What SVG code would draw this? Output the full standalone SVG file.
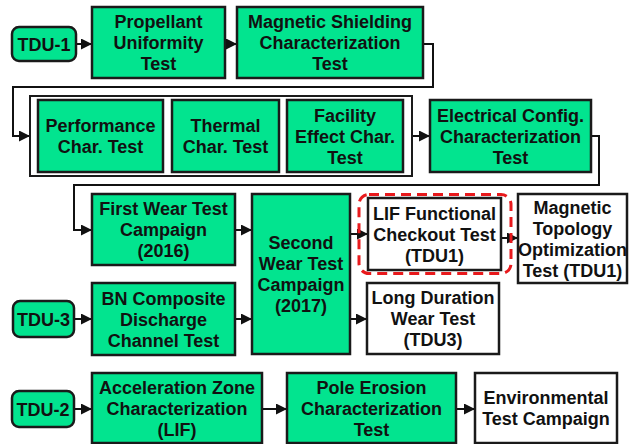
<svg xmlns="http://www.w3.org/2000/svg" width="629" height="444" viewBox="0 0 629 444">
<style>
.g{fill:#02E48F;stroke:#1a1a1a;stroke-width:2.5}
.w{fill:#ffffff;stroke:#1a1a1a;stroke-width:2.5}
.o{fill:#ffffff;stroke:#1a1a1a;stroke-width:2}
.t{font-family:"Liberation Sans",Arial,sans-serif;font-weight:bold;font-size:18px;fill:#111;text-anchor:middle}
.c{fill:none;stroke:#111;stroke-width:2}
.a{marker-end:url(#ah)}
.red{fill:none;stroke:#e8191c;stroke-width:3;stroke-dasharray:10 6}
</style>
<defs>
<marker id="ah" markerUnits="userSpaceOnUse" markerWidth="11" markerHeight="11" refX="11" refY="5.5" orient="auto">
<path d="M0,0 L11,5.5 L0,11 z" fill="#111"/>
</marker>
</defs>
<rect x="0" y="0" width="629" height="444" fill="#ffffff"/>

<g id="connectors">
<path class="c a" d="M76,44 L92,44"/>
<path class="c a" d="M225,44 L237,44"/>
<path class="c a" d="M423,44 L433,44 L433,87 L13,87 L13,136 L30,136"/>
<path class="c a" d="M412,136 L430,136"/>
<path class="c a" d="M591,136 L599,136 L599,185 L74,185 L74,230 L92,230"/>
<path class="c a" d="M235,230 L252,230"/>
<path class="c a" d="M350,234 L368,234"/>
<path class="c a" d="M501,238 L518,238"/>
<path class="c a" d="M74,319 L92,319"/>
<path class="c a" d="M235,319 L252,319"/>
<path class="c a" d="M350,319 L367,319"/>
<path class="c a" d="M74,409 L92,409"/>
<path class="c a" d="M262,409 L287,409"/>
<path class="c a" d="M456,409 L475,409"/>
</g>

<g id="tdu1">
<rect class="g" x="12" y="27" width="64" height="34" rx="7"/>
<text class="t" x="44" y="50.5">TDU-1</text>
</g>
<g id="propellant">
<rect class="g" x="92" y="7" width="133" height="71"/>
<text class="t" x="158.5" y="28">Propellant</text>
<text class="t" x="158.5" y="49">Uniformity</text>
<text class="t" x="158.5" y="70">Test</text>
</g>
<g id="magshield">
<rect class="g" x="237" y="7" width="186" height="71"/>
<text class="t" x="330" y="28">Magnetic Shielding</text>
<text class="t" x="330" y="49">Characterization</text>
<text class="t" x="330" y="70">Test</text>
</g>

<g id="group-row2">
<rect class="o" x="30" y="96" width="382" height="80"/>
</g>
<g id="performance">
<rect class="g" x="38" y="100" width="125" height="72"/>
<text class="t" x="100.5" y="132">Performance</text>
<text class="t" x="100.5" y="153">Char. Test</text>
</g>
<g id="thermal">
<rect class="g" x="172" y="100" width="107" height="72"/>
<text class="t" x="225.5" y="132">Thermal</text>
<text class="t" x="225.5" y="153">Char. Test</text>
</g>
<g id="facility">
<rect class="g" x="287" y="100" width="116" height="72"/>
<text class="t" x="345" y="121.5">Facility</text>
<text class="t" x="345" y="142.5">Effect Char.</text>
<text class="t" x="345" y="163.5">Test</text>
</g>
<g id="electrical">
<rect class="g" x="430" y="100" width="161" height="72"/>
<text class="t" x="510.5" y="121.5">Electrical Config.</text>
<text class="t" x="510.5" y="142.5">Characterization</text>
<text class="t" x="510.5" y="163.5">Test</text>
</g>

<g id="firstwear">
<rect class="g" x="92" y="194" width="143" height="71"/>
<text class="t" x="163.5" y="215">First Wear Test</text>
<text class="t" x="163.5" y="236">Campaign</text>
<text class="t" x="163.5" y="257">(2016)</text>
</g>
<g id="secondwear">
<rect class="g" x="252" y="194" width="98" height="160"/>
<text class="t" x="301" y="248.5">Second</text>
<text class="t" x="301" y="269.5">Wear Test</text>
<text class="t" x="301" y="290.5">Campaign</text>
<text class="t" x="301" y="311.5">(2017)</text>
</g>
<g id="lif">
<rect class="w" x="368" y="198" width="133" height="72"/>
<text class="t" x="434.5" y="219.5">LIF Functional</text>
<text class="t" x="434.5" y="240.5">Checkout Test</text>
<text class="t" x="434.5" y="261.5">(TDU1)</text>
</g>
<g id="highlight">
<rect class="red" x="359" y="194.5" width="152" height="79" rx="10"/>
</g>
<g id="magtopo">
<rect class="w" x="518" y="194" width="109" height="89"/>
<text class="t" x="572.5" y="213.5">Magnetic</text>
<text class="t" x="572.5" y="234.5">Topology</text>
<text class="t" x="572.5" y="255.5">Optimization</text>
<text class="t" x="572.5" y="276.5">Test (TDU1)</text>
</g>

<g id="tdu3">
<rect class="g" x="13" y="301" width="61" height="36" rx="7"/>
<text class="t" x="43.5" y="325.5">TDU-3</text>
</g>
<g id="bn">
<rect class="g" x="92" y="283" width="143" height="72"/>
<text class="t" x="163.5" y="304.5">BN Composite</text>
<text class="t" x="163.5" y="325.5">Discharge</text>
<text class="t" x="163.5" y="346.5">Channel Test</text>
</g>
<g id="longduration">
<rect class="w" x="367" y="283" width="132" height="71"/>
<text class="t" x="433" y="304">Long Duration</text>
<text class="t" x="433" y="325">Wear Test</text>
<text class="t" x="433" y="346">(TDU3)</text>
</g>

<g id="tdu2">
<rect class="g" x="12" y="391" width="62" height="36" rx="7"/>
<text class="t" x="43" y="415.5">TDU-2</text>
</g>
<g id="acceleration">
<rect class="g" x="92" y="373" width="170" height="70"/>
<text class="t" x="177" y="393.5">Acceleration Zone</text>
<text class="t" x="177" y="414.5">Characterization</text>
<text class="t" x="177" y="435.5">(LIF)</text>
</g>
<g id="pole">
<rect class="g" x="287" y="373" width="169" height="70"/>
<text class="t" x="371.5" y="393.5">Pole Erosion</text>
<text class="t" x="371.5" y="414.5">Characterization</text>
<text class="t" x="371.5" y="435.5">Test</text>
</g>
<g id="environmental">
<rect class="w" x="475" y="373" width="142" height="70"/>
<text class="t" x="546" y="404">Environmental</text>
<text class="t" x="546" y="425">Test Campaign</text>
</g>
</svg>
